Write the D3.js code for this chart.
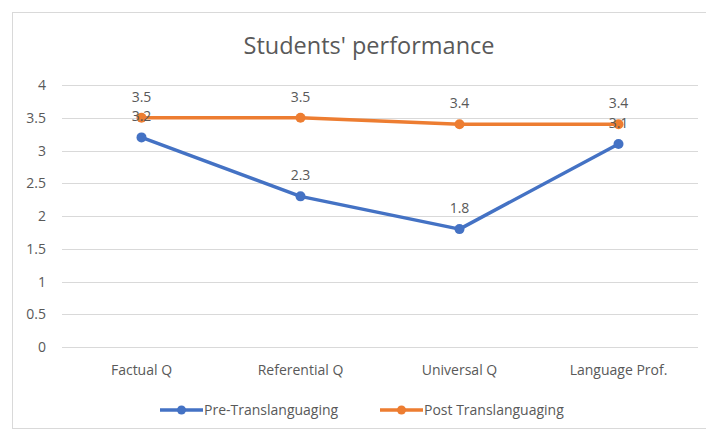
<!DOCTYPE html>
<html>
<head>
<meta charset="utf-8">
<script src="https://cdn.jsdelivr.net/npm/d3@7"></script>
<style>
  body { margin: 0; background: #fff; }
  #chart { width: 706px; height: 432px; }
  text { font-family: "Open Sans", Lato, sans-serif; fill: #595959; }
</style>
</head>
<body>
<div id="chart"></div>
<script>
// Line: students' performance, pre vs post translanguaging
const categories = ["Factual Q", "Referential Q", "Universal Q", "Language Prof."];
const preValues = [3.2, 2.3, 1.8, 3.1];
const postValues = [3.5, 3.5, 3.4, 3.4];
const yTicks = [0, 0.5, 1, 1.5, 2, 2.5, 3, 3.5, 4];
const seriesNames = ["Pre-Translanguaging", "Post Translanguaging"];

(() => {
    const W = 706, H = 432;
    const svg = d3.select("#chart").append("svg").attr("width", W).attr("height", H);

    svg.append("rect")
        .attr("x", 12.5).attr("y", 12.5).attr("width", 700).attr("height", 416)
        .attr("fill", "#fff").attr("stroke", "#d9d9d9");

    const x = d3.scaleBand().domain(categories).range([62, 698]);
    const y = d3.scaleLinear().domain([0, 4]).range([347, 85]);

    svg.append("text")
        .attr("x", 369).attr("y", 54)
        .attr("text-anchor", "middle")
        .style("font-size", "23.5px")
        .text("Students' performance");

    // grid
    svg.append("g").selectAll("line")
        .data(yTicks)
        .join("line")
        .attr("x1", 62).attr("x2", 698)
        .attr("y1", d => Math.round(y(d)) + 0.5).attr("y2", d => Math.round(y(d)) + 0.5)
        .attr("stroke", "#d9d9d9");

    // y labels
    svg.append("g").selectAll("text")
        .data(yTicks)
        .join("text")
        .attr("x", 46).attr("y", d => y(d) + 5)
        .attr("text-anchor", "end")
        .style("font-size", "14px")
        .text(d => d);

    // x labels
    svg.append("g").selectAll("text")
        .data(categories)
        .join("text")
        .attr("x", d => x(d) + x.bandwidth() / 2).attr("y", 375)
        .attr("text-anchor", "middle")
        .style("font-size", "14px")
        .text(d => d);

    const series = [
        { name: seriesNames[0], values: preValues, color: "#4472C4" },
        { name: seriesNames[1], values: postValues, color: "#ED7D31" }
    ];

    const line = d3.line()
        .x((d, i) => x(categories[i]) + x.bandwidth() / 2)
        .y(d => y(d));

    series.forEach(s => {
        const g = svg.append("g");
        g.append("path")
            .attr("d", line(s.values))
            .attr("fill", "none")
            .attr("stroke", s.color)
            .attr("stroke-width", 3.5)
            .attr("stroke-linejoin", "round");
        g.selectAll("circle")
            .data(s.values)
            .join("circle")
            .attr("cx", (d, i) => x(categories[i]) + x.bandwidth() / 2)
            .attr("cy", d => y(d))
            .attr("r", 5)
            .attr("fill", s.color);
    });

    series.forEach(s => {
        svg.append("g").selectAll("text")
            .data(s.values)
            .join("text")
            .attr("x", (d, i) => x(categories[i]) + x.bandwidth() / 2)
            .attr("y", d => y(d) - 16)
            .attr("text-anchor", "middle")
            .style("font-size", "14px")
            .text(d => d.toFixed(1));
    });

    // legend
    const legendX = [160, 380];
    series.forEach((s, i) => {
        const g = svg.append("g").attr("transform", `translate(${legendX[i]},410)`);
        g.append("line").attr("x1", 0).attr("x2", 43)
            .attr("stroke", s.color).attr("stroke-width", 3.5);
        g.append("circle").attr("cx", 21.5).attr("r", 4.5).attr("fill", s.color);
        g.append("text").attr("x", 44).attr("y", 5)
            .style("font-size", "14px")
            .text(s.name);
    });
})();
</script>
</body>
</html>
